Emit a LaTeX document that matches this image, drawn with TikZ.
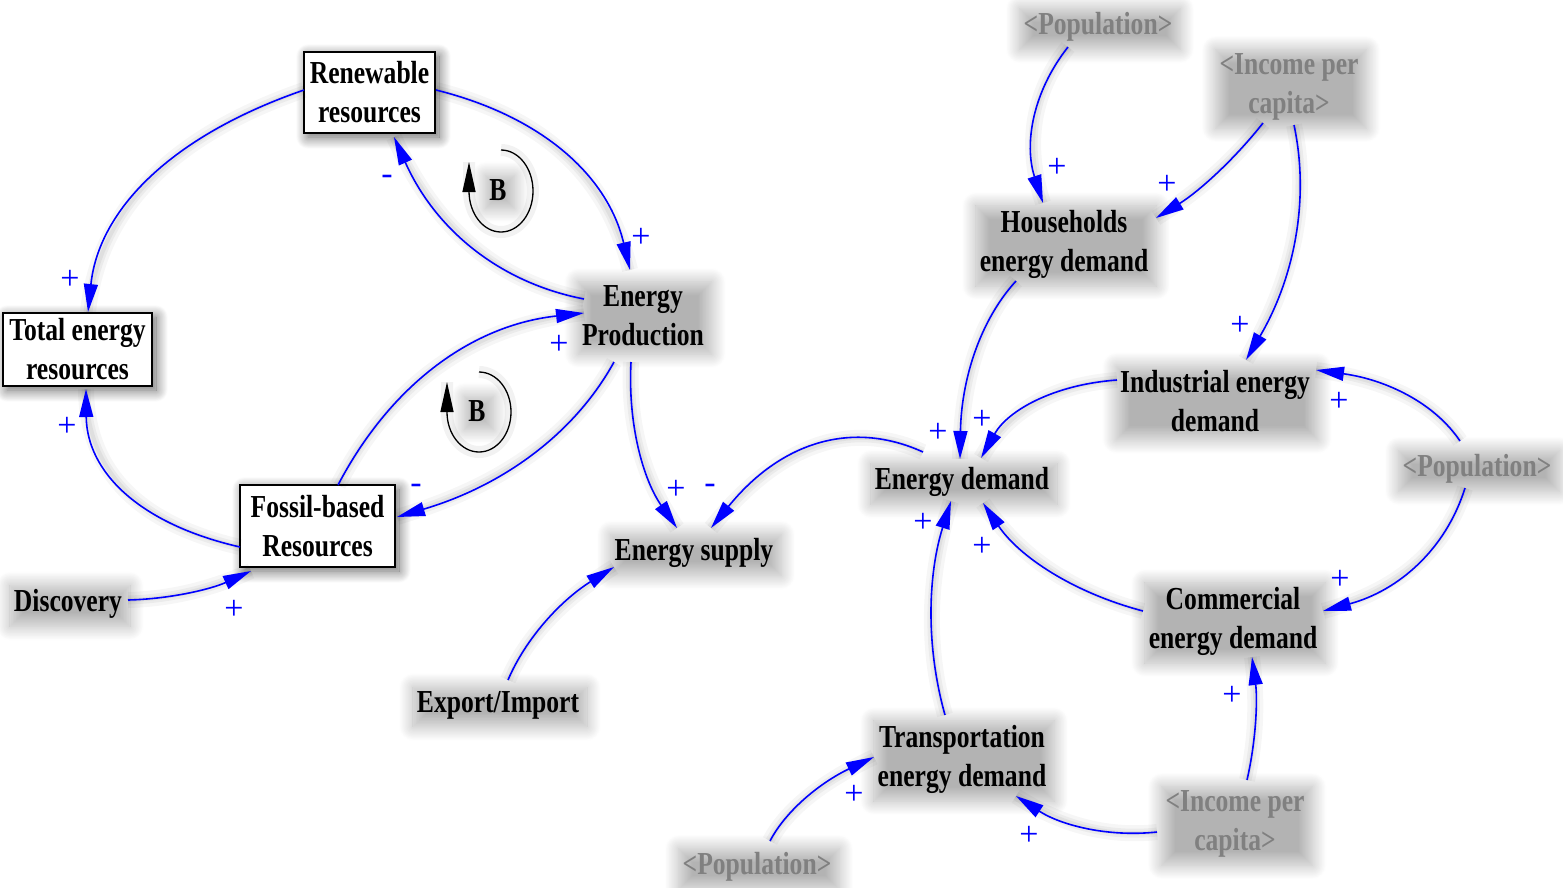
\documentclass[tikz,border=0pt]{standalone}
\usepackage{fontspec}
\setmainfont{Liberation Serif}
\newfontfamily\varfont{Liberation Serif}[FakeStretch=0.8]
\usetikzlibrary{arrows.meta,shadows.blur,calc}
\definecolor{linkblue}{RGB}{0,0,255}
\definecolor{ghostgray}{RGB}{128,128,128}
\begin{document}
\begin{tikzpicture}[x=1pt,y=-1pt,
  every node/.style={font=\varfont\bfseries\fontsize{32}{39}\selectfont, align=center, inner sep=2pt},
  level/.style={draw, line width=1.4pt, fill=white,
    blur shadow={shadow xshift=4pt, shadow yshift=-4pt, shadow blur radius=12pt, shadow blur steps=20, shadow opacity=62}},
  aux/.style={inner sep=6pt,
    blur shadow={shadow xshift=2pt, shadow yshift=-2pt, shadow blur radius=14pt, shadow blur steps=24, shadow opacity=30}},
  ghost/.style={aux, text=ghostgray},
  pol/.style={font=\rmfamily\fontsize{34}{34}\selectfont, text=linkblue, inner sep=0pt},
  link/.style={draw=linkblue, line width=1.6pt, -{Triangle[length=28pt,width=14pt]},
    preaction={draw=black, line width=16pt, opacity=0.035, arrows=-},
    preaction={draw=black, line width=9pt, opacity=0.045, arrows=-},
    preaction={draw=black, line width=4pt, opacity=0.05, arrows=-}},
  loopar/.style={draw=black, line width=1.3pt, -{Triangle[length=30pt,width=13pt]},
    preaction={draw=black, line width=12pt, opacity=0.05, arrows=-}},
]
\useasboundingbox (0,0) rectangle (1563,887);

% stocks
\node[level, minimum width=131pt, minimum height=81pt] (ren) at (369.5,92.5) {Renewable\\resources};
\node[level, minimum width=149pt, minimum height=73pt] (tot) at (77.5,349.5) {Total energy\\resources};
\node[level, minimum width=155pt, minimum height=82pt] (fos) at (317.5,526) {Fossil-based\\Resources};

% auxiliaries
\node[aux] (ep) at (643,316) {Energy\\Production};
\node[aux] (es) at (694,553) {Energy supply};
\node[aux] (exim) at (498,705) {Export/Import};
\node[aux] (disc) at (68,604) {Discovery};
\node[aux] (hh) at (1064,244) {Households\\energy demand};
\node[aux] (ind) at (1215,401) {Industrial energy\\demand};
\node[aux] (ed) at (962,482) {Energy demand};
\node[aux] (com) at (1233,621) {Commercial\\energy demand};
\node[aux] (tra) at (962,759) {Transportation\\energy demand};

% shadow variables
\node[ghost] (pop1) at (1098,27) {<Population>};
\node[ghost] (inc1) at (1289,87) {<Income per\\capita>};
\node[ghost] (pop2) at (1477,469) {<Population>};
\node[ghost] (inc2) at (1235,824) {<Income per\\capita>};
\node[ghost] (pop3) at (757,867) {<Population>};

% loop markers
\node[aux] (b1) at (498,190) {B};
\node[aux] (b2) at (477,411) {B};
\draw[loopar] (501,150) .. controls (518.7,150) and (533,168.4) .. (533,191)
  .. controls (533,213.6) and (518.7,232) .. (501,232)
  .. controls (483.3,232) and (469,213.6) .. (469,191) -- (469,162);
\draw[loopar] (479,372) .. controls (496.7,372) and (511,389.9) .. (511,412)
  .. controls (511,434.1) and (496.7,452) .. (479,452)
  .. controls (461.3,452) and (447,434.1) .. (447,412) -- (447,382);

% causal links
\draw[link] ($(ren)+(-65.5,-2.5)$) .. controls (170.7,136) and (98.7,210) .. ($(tot)+(10.5,-37.5)$);
\draw[link] ($(ren)+(66.5,-2.5)$) .. controls (543.3,116.7) and (608,176.7) .. ($(ep)+(-13,-46)$);
\draw[link] ($(ep)+(-59,-17)$) .. controls (498,282.3) and (434.7,228.3) .. ($(ren)+(24.5,44.5)$);
\draw[link] ($(fos)+(20.5,-41)$) .. controls (392,382.3) and (474,325) .. ($(ep)+(-59,-3)$);
\draw[link] ($(ep)+(-29,46)$) .. controls (574.3,434.3) and (502,486) .. ($(fos)+(79.5,-9)$);
\draw[link] ($(fos)+(-77.5,21)$) .. controls (138,523.7) and (86.7,471) .. ($(tot)+(8.5,39.5)$);
\draw[link] ($(disc)+(60,-4)$) .. controls (169.7,599) and (210.7,589.3) .. ($(fos)+(-66.5,45)$);
\draw[link] ($(ep)+(-12,46)$) .. controls (627.7,424) and (643,479.3) .. ($(es)+(-17,-25)$);
\draw[link] ($(ed)+(-39,-30)$) .. controls (849.7,418.7) and (779,444) .. ($(es)+(17,-25)$);
\draw[link] ($(exim)+(10,-25)$) .. controls (526,637.7) and (561.3,600) .. ($(es)+(-80,14)$);
\draw[link] ($(pop1)+(-30,20)$) .. controls (1032.3,92.3) and (1024,144.3) .. ($(hh)+(-21,-41)$);
\draw[link] ($(inc1)+(-26,36)$) .. controls (1233.3,160.7) and (1197.7,192.3) .. ($(hh)+(92,-26)$);
\draw[link] ($(inc1)+(5,38)$) .. controls (1310,200) and (1294,278.3) .. ($(ind)+(31,-41)$);
\draw[link] ($(hh)+(-48,37)$) .. controls (980,320.3) and (961.3,379.7) .. ($(ed)+(-2,-23)$);
\draw[link] ($(ind)+(-98,-21)$) .. controls (1053,384.7) and (1007.7,410.7) .. ($(ed)+(19,-24)$);
\draw[link] ($(pop2)+(-17,-28)$) .. controls (1434.7,403.3) and (1386.7,379.7) .. ($(ind)+(101,-31)$);
\draw[link] ($(pop2)+(-12,19)$) .. controls (1445.7,549.7) and (1398.3,590.7) .. ($(com)+(90,-10)$);
\draw[link] ($(com)+(-90,-10)$) .. controls (1072.3,592.3) and (1019,556.3) .. ($(ed)+(21,21)$);
\draw[link] ($(tra)+(-17,-44)$) .. controls (925.7,646.3) and (927.7,575) .. ($(ed)+(-11,19)$);
\draw[link] ($(inc2)+(12,-44)$) .. controls (1256,741) and (1257.7,700) .. ($(com)+(19,36)$);
\draw[link] ($(inc2)+(-78,8)$) .. controls (1108,837.3) and (1061,825.3) .. ($(tra)+(54,37)$);
\draw[link] ($(pop3)+(13,-26)$) .. controls (786,810.3) and (820.7,782.3) .. ($(tra)+(-88,-2)$);

% link polarities
\node[pol] (s1) at (70,280) {+};
\node[pol] (s2) at (387,180) {-};
\node[pol] (s3) at (641,238) {+};
\node[pol] (s4) at (559,345) {+};
\node[pol] (s5) at (416,489) {-};
\node[pol] (s6) at (234,610) {+};
\node[pol] (s7) at (67,427) {+};
\node[pol] (s8) at (676,490) {+};
\node[pol] (s9) at (710,489) {-};
\node[pol] (s10) at (1057,168) {+};
\node[pol] (s11) at (1167,185) {+};
\node[pol] (s12) at (1240,326) {+};
\node[pol] (s13) at (938,433) {+};
\node[pol] (s14) at (982,420) {+};
\node[pol] (s15) at (923,523) {+};
\node[pol] (s16) at (982,547) {+};
\node[pol] (s17) at (1339,402) {+};
\node[pol] (s18) at (1340,580) {+};
\node[pol] (s19) at (1232,696) {+};
\node[pol] (s20) at (1029,836) {+};
\node[pol] (s21) at (854,795) {+};
\end{tikzpicture}
\end{document}
